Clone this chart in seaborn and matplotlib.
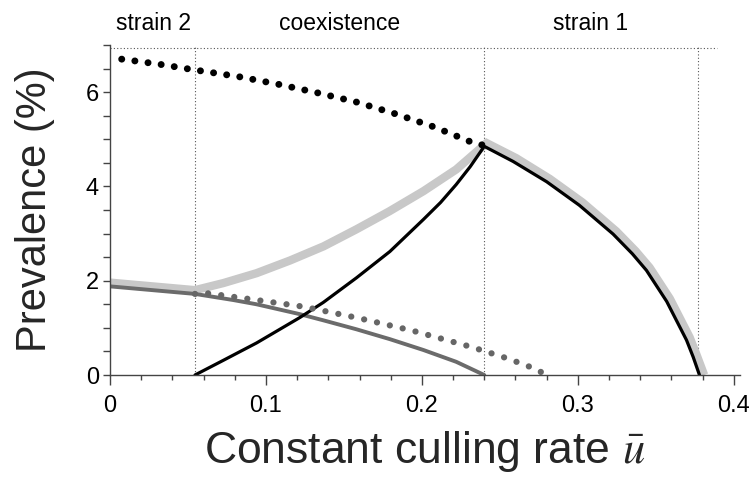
import matplotlib
matplotlib.use("Agg")
import matplotlib.pyplot as plt
import seaborn as sns
import numpy as np
import pandas as pd
from matplotlib.ticker import MultipleLocator

# ---- data ----
u_total_nocull = [0.0075, 0.032, 0.0545, 0.0823, 0.1075, 0.1325, 0.158, 0.183, 0.208, 0.2325, 0.240]
p_total_nocull = [6.70, 6.59, 6.47, 6.33, 6.17, 5.99, 5.79, 5.54, 5.26, 4.93, 4.87]

u_total = [0.0, 0.0545, 0.0727, 0.094, 0.1155, 0.137, 0.158, 0.179, 0.201, 0.222, 0.2415,
           0.2605, 0.282, 0.303, 0.3246, 0.337, 0.346, 0.359, 0.3717, 0.376, 0.381]
p_total = [1.96, 1.80, 1.95, 2.16, 2.43, 2.73, 3.09, 3.47, 3.90, 4.36, 4.92,
           4.60, 4.16, 3.66, 3.05, 2.63, 2.28, 1.62, 0.80, 0.44, 0.0]

u_s1 = [0.0545, 0.0726, 0.094, 0.1218, 0.1368, 0.158, 0.1795, 0.201, 0.212, 0.222, 0.231, 0.240,
        0.2585, 0.280, 0.301, 0.3226, 0.335, 0.344, 0.357, 0.3697, 0.374, 0.378]
p_s1 = [0.0, 0.31, 0.68, 1.22, 1.54, 2.06, 2.62, 3.30, 3.66, 4.04, 4.42, 4.85,
        4.53, 4.10, 3.60, 2.99, 2.57, 2.22, 1.56, 0.74, 0.38, 0.0]

u_s2 = [0.0, 0.0545, 0.0791, 0.094, 0.1218, 0.1368, 0.158, 0.1795, 0.201, 0.222, 0.240]
p_s2 = [1.88, 1.72, 1.59, 1.50, 1.29, 1.16, 0.97, 0.76, 0.53, 0.28, 0.0]

u_s2_nocull = [0.0545, 0.061, 0.0876, 0.124, 0.159, 0.194, 0.229, 0.238, 0.255, 0.272, 0.280]
p_s2_nocull = [1.72, 1.74, 1.62, 1.45, 1.21, 0.94, 0.62, 0.53, 0.35, 0.14, 0.0]

boundaries = [0.0545, 0.24, 0.377]
region_labels = ["strain 2", "coexistence", "strain 1"]
region_x = [0.028, 0.147, 0.308]
xticks = [0, 0.1, 0.2, 0.3, 0.4]
xtick_labels = ["0", "0.1", "0.2", "0.3", "0.4"]
yticks = [0, 2, 4, 6]

sns.set_theme(style="white")
plt.rcParams['font.family'] = ['Liberation Sans', 'DejaVu Sans']
plt.rcParams['mathtext.fontset'] = 'stix'

fig = plt.figure(figsize=(7.52, 4.8), dpi=100)
ax = fig.add_axes([110/752, 105/480, 630/752, 330/480])

def df(u, p):
    return pd.DataFrame({"u": u, "p": p})

sns.lineplot(data=df(u_total, p_total), x="u", y="p", ax=ax, color="#c8c8c8", lw=6.0,
             sort=False, estimator=None, solid_joinstyle="miter", solid_capstyle="butt")
sns.lineplot(data=df(u_s2, p_s2), x="u", y="p", ax=ax, color="#6b6b6b", lw=2.8,
             sort=False, estimator=None)
sns.lineplot(data=df(u_s1, p_s1), x="u", y="p", ax=ax, color="black", lw=2.3,
             sort=False, estimator=None, solid_joinstyle="miter")
sns.lineplot(data=df(u_s2_nocull, p_s2_nocull), x="u", y="p", ax=ax, color="#666666", lw=4.5,
             sort=False, estimator=None, linestyle=(0, (0.01, 2.1)), dash_capstyle="round")
sns.lineplot(data=df(u_total_nocull, p_total_nocull), x="u", y="p", ax=ax, color="black", lw=5.0,
             sort=False, estimator=None, linestyle=(0, (0.01, 1.9)), dash_capstyle="round")

for b in boundaries:
    ax.plot([b, b], [0, 7.0], color="#555555", lw=0.8, ls=(0, (1, 2)), zorder=0)
ax.plot([0, 0.389], [6.93, 6.93], color="#555555", lw=0.8, ls=(0, (1, 2)), zorder=0)

for lab, xx in zip(region_labels, region_x):
    ax.text(xx, 7.45, lab, ha="center", va="center", fontsize=16.5, color="black")

ax.set_xlim(0, 0.404)
ax.set_ylim(0, 7.0)
ax.set_xticks(xticks)
ax.set_xticklabels(xtick_labels)
ax.set_yticks(yticks)
ax.set_yticklabels([str(t) for t in yticks])
ax.xaxis.set_minor_locator(MultipleLocator(0.02))
ax.yaxis.set_minor_locator(MultipleLocator(0.5))
ax.tick_params(axis="x", which="major", direction="out", length=7.2, width=1.0,
               color="#444444", labelsize=17, labelcolor="black", pad=7, bottom=True)
ax.tick_params(axis="x", which="minor", direction="out", length=3.6, width=1.0,
               color="#444444", bottom=True)
ax.tick_params(axis="y", which="major", direction="out", length=5, width=1.0,
               color="#444444", labelsize=17, labelcolor="black", pad=3, left=True)
ax.tick_params(axis="y", which="minor", direction="out", length=5, width=1.0,
               color="#444444", left=True)
for s in ["top", "right"]:
    ax.spines[s].set_visible(False)
for s in ["left", "bottom"]:
    ax.spines[s].set_color("#444444")
    ax.spines[s].set_linewidth(1.0)

ax.set_xlabel(r"Constant culling rate $\bar{u}$", fontsize=32, labelpad=9)
ax.set_ylabel("Prevalence (%)", fontsize=30, labelpad=22)

fig.savefig("out.png", dpi=100)
